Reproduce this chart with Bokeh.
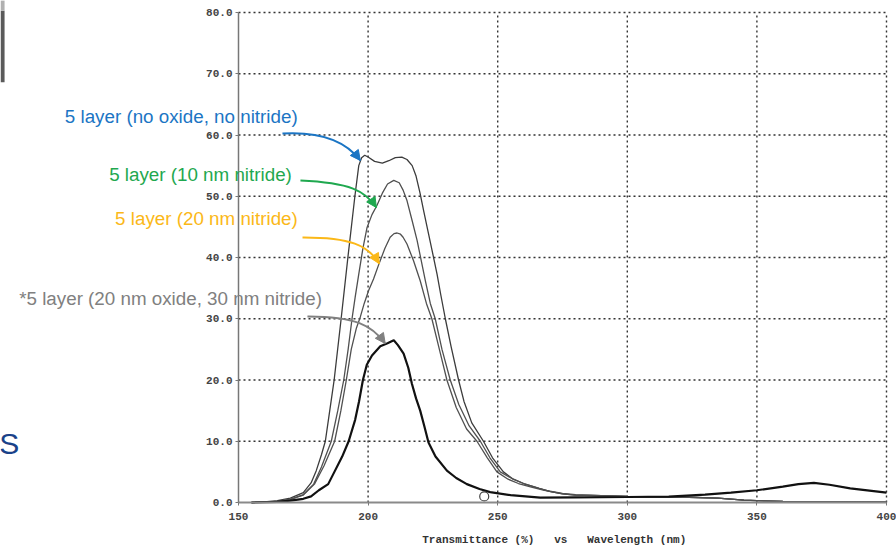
from bokeh.plotting import figure
from bokeh.models import (Range1d, FixedTicker, Label, Arrow, NormalHead,
                          BoxAnnotation, PrintfTickFormatter, LinearAxis)
from bokeh.embed import file_html
from bokeh.resources import INLINE

# ---- data ----
wl_a = [155, 160, 165, 170, 175, 178, 180, 182, 183.5, 185.2, 186.9, 189.6, 192.2, 194.9, 196.4, 197.5,
        198.7, 200, 202.5, 205.5, 208, 210.5, 213, 215, 217, 218.5, 220, 221.5, 223.3, 225, 226.6, 228,
        229.8, 232, 234.9, 237, 240, 244.5, 248, 252.2, 256, 260, 266, 270, 275, 280, 290, 300, 320,
        335, 345, 350, 360, 400]
tr_a = [0.0, 0.1, 0.3, 0.7, 1.6, 3.2, 5.2, 7.8, 10.0, 15.0, 20.0, 30.0, 40.0, 50.0, 55.0, 56.3,
        56.7, 56.4, 55.7, 55.4, 55.8, 56.3, 56.4, 56.0, 55.0, 53.3, 50.6, 47.5, 43.9, 40.5, 37.3, 34.0,
        30.0, 25.5, 20.0, 16.5, 13.0, 10.0, 7.3, 5.0, 3.8, 3.1, 2.3, 1.8, 1.4, 1.2, 1.1, 1.0, 0.9,
        0.7, 0.4, 0.3, 0.2, 0.1]

wl_b = [155, 160, 165, 170, 175, 179, 182, 185.8, 188.3, 190.6, 192.3, 193.8, 195, 196.4, 198, 199.6,
        201.5, 203.4, 205.5, 207.5, 209.9, 212, 213.5, 215, 217, 218.9, 220.5, 222.1, 224, 225.9,
        228.5, 231.7, 235, 239, 243.3, 247, 251, 256, 260, 266, 270, 275, 280, 290, 300, 320, 335,
        345, 350, 360, 400]
tr_b = [0.0, 0.1, 0.2, 0.5, 1.3, 3.0, 5.8, 10.0, 15.0, 20.0, 25.0, 30.0, 33.5, 37.3, 41.5, 44.9,
        47.0, 48.5, 50.5, 52.0, 52.6, 52.2, 51.0, 49.3, 46.0, 42.8, 39.5, 36.2, 32.5, 30.0,
        25.0, 20.0, 16.0, 12.5, 10.0, 7.3, 5.0, 3.8, 3.1, 2.3, 1.8, 1.4, 1.2, 1.1, 1.0, 0.9, 0.7,
        0.4, 0.3, 0.2, 0.1]

wl_c = [155, 160, 165, 170, 175, 179.3, 183, 187.1, 189.5, 191.6, 193.5, 195.5, 197, 198.5, 200.2,
        202.1, 204.4, 206.5, 208.5, 210, 211.2, 212.5, 213.5, 215, 217.5, 220.1, 222.5, 224.6, 227.5,
        230.4, 234, 238, 242, 246, 249.7, 254, 258, 263, 268, 275, 280, 290, 300, 320, 335, 345, 350,
        360, 400]
tr_c = [0.0, 0.1, 0.2, 0.5, 1.2, 3.0, 6.0, 10.0, 15.0, 20.0, 25.0, 28.5, 30.3, 32.5, 34.6,
        36.5, 39.2, 41.5, 43.3, 43.9, 44.0, 43.8, 43.3, 42.2, 39.5, 36.2, 32.5, 30.0, 25.0,
        20.0, 15.5, 12.0, 10.0, 7.3, 5.0, 3.8, 3.1, 2.5, 2.0, 1.5, 1.3, 1.1, 1.0, 0.9, 0.7, 0.4, 0.3,
        0.2, 0.1]

wl_d = [155, 160, 165, 170, 175, 178, 181, 184.6, 187, 190, 192.5, 195, 196.5, 198, 199.5, 201.5,
        204.7, 207.5, 209.9, 211.5, 213.7, 215.5, 216.9, 218.5, 220.1, 221.8, 223.3, 226, 230.4, 234,
        238.1, 243, 247.1, 255, 266.4, 280, 300, 316, 330, 340, 350, 360, 366, 372, 378, 386, 400]
tr_d = [0.0, 0.05, 0.1, 0.3, 0.6, 1.0, 2.0, 3.0, 5.0, 7.5, 10.0, 13.5, 16.5, 20.0, 22.5, 24.0,
        25.5, 26.0, 26.5, 25.7, 24.3, 22.0, 19.4, 17.0, 15.0, 12.3, 9.8, 7.5, 5.2, 4.0,
        3.0, 2.2, 1.7, 1.2, 0.8, 0.85, 0.9, 0.95, 1.3, 1.6, 2.0, 2.6, 3.0, 3.2, 2.9, 2.3, 1.6]

marker_wl = [244.8]
marker_tr = [1.0]

x_ticks = [150, 200, 250, 300, 350, 400]
y_ticks = [0, 10, 20, 30, 40, 50, 60, 70, 80]

labels = ["5 layer (no oxide, no nitride)", "5 layer (10 nm nitride)",
          "5 layer (20 nm nitride)", "*5 layer (20 nm oxide, 30 nm nitride)"]
label_colors = ["#1b75c4", "#1fa84f", "#fbb818", "#808080"]
NBSP = "\u00a0"
x_title = "Transmittance (%)" + NBSP * 3 + "vs" + NBSP * 3 + "Wavelength (nm)"

# ---- figure: the frame fills the canvas; axes are pinned at x=150 / y=0 ----
x_lo, x_hi = x_ticks[0], x_ticks[-1]
y_lo, y_hi = y_ticks[0], y_ticks[-1]
px_per_x = 648 / (x_hi - x_lo)
px_per_y = 490 / (y_hi - y_lo)
p = figure(width=896, height=546, output_backend="svg", toolbar_location=None,
           x_range=Range1d(x_lo - 238 / px_per_x, x_hi + 10 / px_per_x),
           y_range=Range1d(y_lo - 44 / px_per_y, y_hi + 12 / px_per_y),
           x_axis_location=None, y_axis_location=None,
           min_border=0)
p.outline_line_color = None
p.background_fill_color = "white"
p.border_fill_color = "white"
p.grid.visible = False

mono = "Liberation Mono"
xaxis = LinearAxis(fixed_location=y_lo, bounds=(x_lo, x_hi), ticker=FixedTicker(ticks=x_ticks),
                   formatter=PrintfTickFormatter(format="%d"))
yaxis = LinearAxis(fixed_location=x_lo, bounds=(y_lo, y_hi), ticker=FixedTicker(ticks=y_ticks),
                   formatter=PrintfTickFormatter(format="%.1f"))
for ax in (xaxis, yaxis):
    ax.major_label_text_font = mono
    ax.major_label_text_font_size = "11px"
    ax.major_label_text_font_style = "bold"
    ax.major_label_text_color = "#444444"
    ax.minor_tick_line_color = None
    ax.major_tick_in = 0
    ax.major_tick_out = 3
    ax.major_tick_line_color = "#777777"
xaxis.axis_line_color = "#8a8a8a"
xaxis.axis_line_width = 2
yaxis.axis_line_color = "#777777"
yaxis.axis_line_width = 1.5
xaxis.major_label_standoff = 7
yaxis.major_label_standoff = 3

# dotted grid, bounded to the data area
gx = x_ticks[1:]
gy = y_ticks[1:]
p.segment(x0=gx, y0=[y_lo] * len(gx), x1=gx, y1=[y_hi] * len(gx),
          line_color="#333333", line_dash="2 3", line_width=1.4)
p.segment(x0=[x_lo] * len(gy), y0=gy, x1=[x_hi] * len(gy), y1=gy,
          line_color="#333333", line_dash="2 3", line_width=1.4)

# curves
p.line(wl_a, tr_a, line_color="#3c3c3c", line_width=1.3)
p.line(wl_b, tr_b, line_color="#505050", line_width=1.3)
p.line(wl_c, tr_c, line_color="#505050", line_width=1.3)
p.line(wl_d, tr_d, line_color="#111111", line_width=2.2)
p.scatter(marker_wl, marker_tr, marker="circle", size=9, fill_color="white",
          line_color="#444444", line_width=1.2)

p.add_layout(xaxis, "below")
p.add_layout(yaxis, "left")

# annotation arrows (curved)
arrows = [
    ((166.96, 60.24), (181.6, 60.6), (191.2, 59.1), (197.0, 55.84)),
    ((173.9, 52.57), (193.2, 52.2), (198.9, 50.9), (203.2, 48.16)),
    ((174.7, 43.27), (193.2, 43.3), (200.1, 42.0), (204.3, 39.0)),
    ((176.6, 30.37), (195.1, 30.4), (201.6, 28.9), (206.6, 25.96)),
]
for (s, c0, c1, e), col in zip(arrows, label_colors):
    p.bezier(x0=[s[0]], y0=[s[1]], x1=[e[0]], y1=[e[1]], cx0=[c0[0]], cy0=[c0[1]],
             cx1=[c1[0]], cy1=[c1[1]], line_color=col, line_width=2)
    p.add_layout(Arrow(end=NormalHead(size=10, fill_color=col, line_color=col, line_width=1),
                       x_start=c1[0], y_start=c1[1], x_end=e[0], y_end=e[1],
                       line_alpha=0))

# annotation texts
label_pos = [(83.0, 63.0), (100.1, 53.55), (102.4, 46.37), (65.4, 33.3)]
for txt, col, (lx, ly) in zip(labels, label_colors, label_pos):
    p.add_layout(Label(x=lx, y=ly, text=txt, text_color=col, text_font="Liberation Sans",
                       text_font_size="18.8px", text_baseline="middle", text_align="left"))

p.add_layout(Label(x=271.8, y=-6.2, text=x_title, text_font=mono, text_font_size="11px",
                   text_font_style="bold", text_color="#333333",
                   text_align="center", text_baseline="middle"))

# slide remnants on the left edge
p.add_layout(BoxAnnotation(left=58.2, right=59.75, bottom=68.6, top=80.3,
                           fill_color="#5a5a5a", fill_alpha=1, line_alpha=0))
p.add_layout(BoxAnnotation(left=58.2, right=59.75, bottom=80.3, top=82.0,
                           fill_color="#b0b0b0", fill_alpha=1, line_alpha=0))
p.add_layout(Label(x=57.7, y=9.6, text="S", text_color="#1a4289", text_font="Liberation Sans",
                   text_font_size="30px", text_baseline="middle", text_align="left"))

open("out.html", "w").write(file_html(p, INLINE))
